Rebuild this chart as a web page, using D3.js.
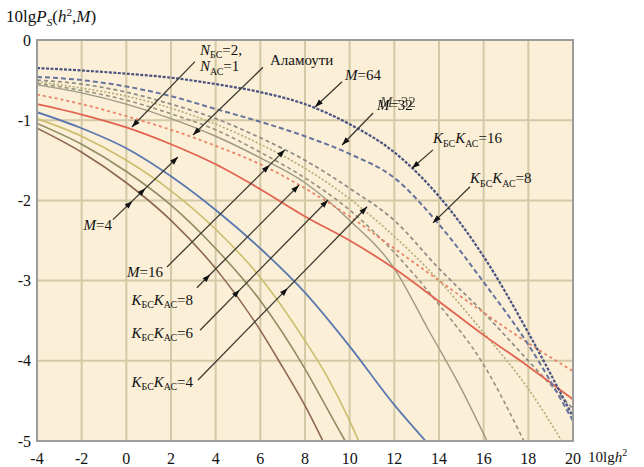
<!DOCTYPE html>
<html>
<head>
<meta charset="utf-8">
<script src="https://cdn.jsdelivr.net/npm/d3@7"></script>
<style>
  body { margin: 0; background: #fff; }
  svg { display: block; }
  text { font-family: "Liberation Serif", "Times New Roman", "DejaVu Serif", serif; }
</style>
</head>
<body>
<svg id="chart" width="644" height="467"></svg>
<script>
// tick values
const xTicks = [-4, -2, 0, 2, 4, 6, 8, 10, 12, 14, 16, 18, 20];
const yTicks = [0, -1, -2, -3, -4, -5];

// curves (x = 10lg h^2, y = 10lg Ps)
const xFull = [-4, -2, 0, 2, 4, 6, 8, 10, 12, 14, 16, 18, 20];
const navyDotted = [-0.35, -0.38, -0.42, -0.47, -0.55, -0.65, -0.8, -1.05, -1.4, -1.95, -2.7, -3.65, -4.7];
const blueDashed = [-0.46, -0.5, -0.58, -0.7, -0.86, -1.02, -1.2, -1.42, -1.72, -2.3, -3.02, -3.8, -4.75];
const grayDashed = [-0.5, -0.55, -0.65, -0.8, -0.98, -1.22, -1.5, -1.85, -2.25, -2.85, -3.4, -4.0, -4.6];
const redDotted = [-0.68, -0.8, -0.95, -1.12, -1.32, -1.55, -1.85, -2.2, -2.6, -3.0, -3.4, -3.78, -4.13];
const redSolid = [-0.8, -0.93, -1.09, -1.3, -1.55, -1.86, -2.2, -2.5, -2.85, -3.26, -3.68, -4.07, -4.48];

const oliveDottedX = [-4, -2, 0, 2, 4, 6, 8, 10, 12, 14, 16, 18, 19.5];
const oliveDottedY = [-0.52, -0.6, -0.7, -0.85, -1.05, -1.3, -1.6, -1.98, -2.45, -3.0, -3.65, -4.35, -5];
const oliveDashedX = [-4, -2, 0, 2, 4, 6, 8, 10, 12, 14, 16, 17.8];
const oliveDashedY = [-0.54, -0.63, -0.75, -0.92, -1.12, -1.4, -1.72, -2.12, -2.65, -3.3, -4.05, -5];
const greySolidX = [-4, -2, 0, 2, 4, 6, 8, 10, 12, 13.5, 15, 16.15];
const greySolidY = [-0.56, -0.66, -0.8, -0.98, -1.2, -1.47, -1.78, -2.25, -2.85, -3.6, -4.35, -5];

const blueSolidX = [-4, -2, 0, 2, 4, 6, 8, 10, 12, 13.4];
const blueSolidY = [-0.9, -1.1, -1.35, -1.7, -2.12, -2.6, -3.15, -3.82, -4.55, -5];
const yellowSolidX = [-4, -2, 0, 2, 4, 6, 8, 9, 10, 10.4];
const yellowSolidY = [-0.98, -1.2, -1.5, -1.88, -2.36, -2.96, -3.75, -4.2, -4.75, -5];
const oliveSolidX = [-4, -2, 0, 2, 4, 6, 8, 9, 9.8];
const oliveSolidY = [-1.04, -1.3, -1.64, -2.06, -2.6, -3.25, -4.1, -4.6, -5];
const brownSolidX = [-4, -2, 0, 2, 4, 6, 7, 8, 8.8];
const brownSolidY = [-1.1, -1.4, -1.78, -2.25, -2.85, -3.62, -4.08, -4.56, -5];

const series = [
  { xs: oliveDottedX, ys: oliveDottedY, color: '#b3aa72', width: 1.6, dash: '2 2' },
  { xs: oliveDashedX, ys: oliveDashedY, color: '#94937a', width: 1.6, dash: '4 3' },
  { xs: greySolidX, ys: greySolidY, color: '#9c9a82', width: 1.4, dash: null },
  { xs: xFull, ys: grayDashed, color: '#8c8c84', width: 1.7, dash: '4 3' },
  { xs: xFull, ys: redDotted, color: '#ea8468', width: 1.8, dash: '3 3' },
  { xs: xFull, ys: redSolid, color: '#e2634f', width: 1.8, dash: null },
  { xs: brownSolidX, ys: brownSolidY, color: '#8b6852', width: 1.6, dash: null },
  { xs: oliveSolidX, ys: oliveSolidY, color: '#8f8d62', width: 1.6, dash: null },
  { xs: yellowSolidX, ys: yellowSolidY, color: '#cbbd6c', width: 1.6, dash: null },
  { xs: blueSolidX, ys: blueSolidY, color: '#5b79b0', width: 1.8, dash: null },
  { xs: xFull, ys: blueDashed, color: '#66749c', width: 2, dash: '5 3' },
  { xs: xFull, ys: navyDotted, color: '#4a5282', width: 2.2, dash: '3 1.5' }
];

// annotation arrows: start and tip in data units, plus arrowhead positions along them
const arrows = [
  { from: [3.07, -0.27], to: [0.25, -1.085], heads: [1] },
  { from: [6.12, -0.34], to: [2.985, -1.185], heads: [1] },
  { from: [9.66, -0.52], to: [8.45, -0.835], heads: [1] },
  { from: [11.05, -0.91], to: [9.66, -1.31], heads: [1] },
  { from: [13.73, -1.37], to: [12.79, -1.6], heads: [1] },
  { from: [15.39, -1.83], to: [13.73, -2.28], heads: [1] },
  { from: [-0.6, -2.24], to: [2.31, -1.46], heads: [0.3, 0.5, 1] },
  { from: [1.82, -2.83], to: [7.1, -1.37], heads: [0.87, 1] },
  { from: [3.16, -3.09], to: [7.73, -1.81], heads: [0.13, 1] },
  { from: [3.3, -3.62], to: [9.03, -1.995], heads: [0.31, 1] },
  { from: [3.21, -4.24], to: [10.78, -2.08], heads: [0.53, 1] }
];

const KK = n => [{ t: 'K', i: true }, { t: 'БС', sub: true }, { t: 'K', i: true }, { t: 'АС', sub: true }, { t: '=' + n }];
const labels = [
  { at: [3.3, -0.185], anchor: 'start', parts: [{ t: 'N', i: true }, { t: 'БС', sub: true }, { t: '=2,' }] },
  { at: [3.3, -0.39], anchor: 'start', parts: [{ t: 'N', i: true }, { t: 'АС', sub: true }, { t: '=1' }] },
  { at: [6.43, -0.31], anchor: 'start', parts: [{ t: 'Аламоути' }] },
  { at: [9.79, -0.5], anchor: 'start', parts: [{ t: 'M', i: true }, { t: '=64' }] },
  { at: [11.22, -0.87], anchor: 'start', parts: [{ t: 'M', i: true }, { t: '=32' }], ghost: true },
  { at: [13.73, -1.285], anchor: 'start', parts: KK(16) },
  { at: [15.39, -1.785], anchor: 'start', parts: KK(8) },
  { at: [-0.64, -2.37], anchor: 'end', parts: [{ t: 'M', i: true }, { t: '=4' }] },
  { at: [1.64, -2.955], anchor: 'end', parts: [{ t: 'M', i: true }, { t: '=16' }] },
  { at: [2.985, -3.3], anchor: 'end', parts: KK(8) },
  { at: [2.985, -3.715], anchor: 'end', parts: KK(6) },
  { at: [2.985, -4.325], anchor: 'end', parts: KK(4) }
];

const svg = d3.select('#chart');
const x = d3.scaleLinear().domain([-4, 20]).range([37, 573]);
const y = d3.scaleLinear().domain([-5, 0]).range([441, 40]);

const defs = svg.append('defs');
// the reference prints "M=32" twice, slightly shifted
const ghost = defs.append('filter').attr('id', 'ghost')
  .attr('x', '-20%').attr('y', '-50%').attr('width', '140%').attr('height', '200%');
ghost.append('feOffset').attr('in', 'SourceGraphic').attr('dx', 3).attr('dy', -3).attr('result', 'off');
ghost.append('feComponentTransfer').attr('in', 'off').attr('result', 'faded')
  .append('feFuncA').attr('type', 'linear').attr('slope', 0.7);
const merge = ghost.append('feMerge');
merge.append('feMergeNode').attr('in', 'faded');
merge.append('feMergeNode').attr('in', 'SourceGraphic');

defs.append('clipPath').attr('id', 'plot')
  .append('rect')
  .attr('x', x(-4)).attr('y', y(0))
  .attr('width', x(20) - x(-4)).attr('height', y(-5) - y(0));

// plot background
svg.append('rect')
  .attr('x', x(-4)).attr('y', y(0))
  .attr('width', x(20) - x(-4)).attr('height', y(-5) - y(0))
  .attr('fill', '#fbefd7');

// grid
svg.append('g').selectAll('line').data(xTicks.slice(1, -1)).join('line')
  .attr('x1', d => x(d)).attr('x2', d => x(d))
  .attr('y1', y(0)).attr('y2', y(-5))
  .attr('stroke', '#d3c9a6').attr('stroke-width', 2);
svg.append('g').selectAll('line').data(yTicks.slice(1, -1)).join('line')
  .attr('x1', x(-4)).attr('x2', x(20))
  .attr('y1', d => y(d)).attr('y2', d => y(d))
  .attr('stroke', '#d3c9a6').attr('stroke-width', 2);

// curves
const line = d3.line().curve(d3.curveMonotoneX).x(d => x(d[0])).y(d => y(d[1]));
const curves = svg.append('g').attr('clip-path', 'url(#plot)');
series.forEach((s) => {
  curves.append('path')
    .datum(s.xs.map((v, i) => [v, s.ys[i]]))
    .attr('d', line)
    .attr('fill', 'none')
    .attr('stroke', s.color)
    .attr('stroke-width', s.width)
    .attr('stroke-dasharray', s.dash);
});

// frame
svg.append('rect')
  .attr('x', x(-4)).attr('y', y(0))
  .attr('width', x(20) - x(-4)).attr('height', y(-5) - y(0))
  .attr('fill', 'none').attr('stroke', '#9c9c9c').attr('stroke-width', 2);

// arrows
const ann = svg.append('g');
arrows.forEach((a) => {
  const x1 = x(a.from[0]), y1 = y(a.from[1]), x2 = x(a.to[0]), y2 = y(a.to[1]);
  ann.append('line')
    .attr('x1', x1).attr('y1', y1).attr('x2', x2).attr('y2', y2)
    .attr('stroke', '#3c3a30').attr('stroke-width', 1.3);
  const ang = Math.atan2(y2 - y1, x2 - x1);
  a.heads.forEach((t) => {
    const px = x1 + (x2 - x1) * t, py = y1 + (y2 - y1) * t;
    const len = 8, hw = 2.8;
    const bx = px - len * Math.cos(ang), by = py - len * Math.sin(ang);
    const nx = -Math.sin(ang) * hw, ny = Math.cos(ang) * hw;
    ann.append('path')
      .attr('d', `M${px},${py}L${bx + nx},${by + ny}L${bx - nx},${by - ny}Z`)
      .attr('fill', '#111');
  });
});

// rich text helper (italic letters, sub/superscripts)
function richText(g, px, py, parts, anchor, size) {
  const t = g.append('text').attr('x', px).attr('y', py)
    .attr('text-anchor', anchor).attr('font-size', size).attr('fill', '#111');
  let shift = 0;
  parts.forEach((p) => {
    const target = p.sub ? 3.5 : (p.sup ? -6 : 0);
    const ts = t.append('tspan').text(p.t).attr('dy', target - shift);
    if (p.i) ts.attr('font-style', 'italic');
    if (p.sub || p.sup) ts.attr('font-size', size * 0.66);
    shift = target;
  });
  return t;
}

labels.forEach((l) => {
  const t = richText(svg, x(l.at[0]), y(l.at[1]), l.parts, l.anchor, 15);
  if (l.ghost) t.attr('filter', 'url(#ghost)');
});

// tick labels
svg.append('g').selectAll('text').data(yTicks).join('text')
  .attr('x', 31).attr('y', d => y(d)).attr('dy', '0.35em')
  .attr('text-anchor', 'end').attr('font-size', 16).attr('fill', '#111')
  .text(d => String(d));
svg.append('g').selectAll('text').data(xTicks).join('text')
  .attr('x', d => x(d)).attr('y', 464)
  .attr('text-anchor', 'middle').attr('font-size', 16).attr('fill', '#111')
  .text(d => String(d));

// axis titles
richText(svg, 6, 22, [
  { t: '10lg' }, { t: 'P', i: true }, { t: 'S', i: true, sub: true }, { t: '(' },
  { t: 'h', i: true }, { t: '2', sup: true }, { t: ',' }, { t: 'M', i: true }, { t: ')' }
], 'start', 17);
richText(svg, 588, 462, [{ t: '10lg' }, { t: 'h', i: true }, { t: '2', sup: true }], 'start', 15);
</script>
</body>
</html>
